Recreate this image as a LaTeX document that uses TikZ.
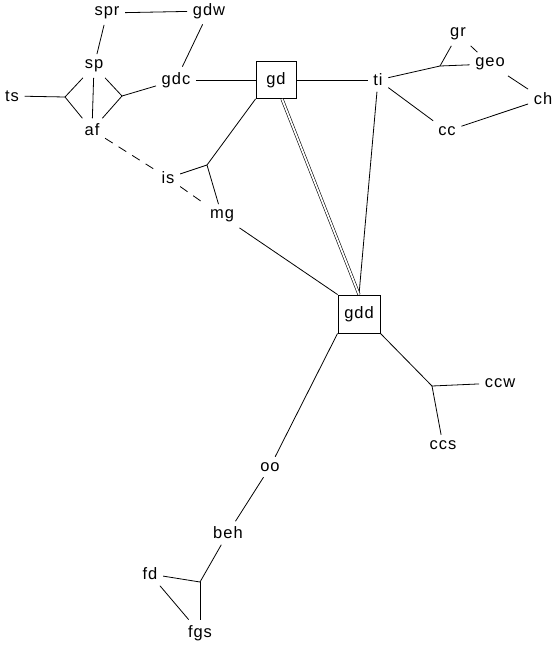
\documentclass[tikz,border=0pt]{standalone}
\usepackage{fontspec}
\setmainfont{Liberation Sans}[LetterSpace=6]
\begin{document}
\begin{tikzpicture}[x=1pt,y=-1pt,
  lbl/.style={inner sep=5.5pt,font=\fontsize{16.5}{18}\selectfont},
  boxnode/.style={draw,line width=0.9pt,minimum width=40pt,minimum height=37pt,inner sep=2pt,font=\fontsize{16.5}{18}\selectfont},
  edge/.style={line width=0.8pt},
  dashedge/.style={line width=0.8pt,dash pattern=on 9pt off 7pt},
  dbl/.style={double,double distance=1.8pt,line width=0.6pt}]
\path[use as bounding box] (0,0) rectangle (556,645);
% nodes
\node[lbl] (spr) at (107,13) {spr};
\node[lbl] (gdw) at (209,11) {gdw};
\node[lbl] (sp) at (94,66) {sp};
\node[lbl] (gdc) at (176,80) {gdc};
\node[lbl] (ts) at (12,96) {ts};
\node[lbl] (af) at (92,130) {af};
\node[boxnode] (gd) at (276,80) {gd};
\node[lbl] (ti) at (378,80) {ti};
\node[lbl] (gr) at (458,34) {gr};
\node[lbl] (geo) at (490,64) {geo};
\node[lbl] (ch) at (543,99) {ch};
\node[lbl] (cc) at (447,131) {cc};
\node[lbl] (is) at (168,178) {is};
\node[lbl] (mg) at (222,216) {mg};
\node[boxnode,minimum width=42pt,minimum height=38pt] (gdd) at (359,314) {gdd};
\node[lbl] (ccw) at (500,383) {ccw};
\node[lbl] (ccs) at (443,445) {ccs};
\node[lbl] (oo) at (270,467) {oo};
\node[lbl] (beh) at (228,533) {beh};
\node[lbl] (fd) at (150,574) {fd};
\node[lbl] (fgs) at (200,633) {fgs};
% junctions
\coordinate (j1) at (65,97);
\coordinate (j2) at (122,96);
\coordinate (j3) at (440,66);
\coordinate (j4) at (207,165);
\coordinate (j5) at (432,386);
\coordinate (j6) at (200,582);
% edges
\draw[edge] (spr) -- (gdw);
\draw[edge] (spr) -- (sp);
\draw[edge] (gdw) -- (gdc);
\draw[edge] (ts) -- (j1);
\draw[edge] (j1) -- (sp);
\draw[edge] (j1) -- (af);
\draw[edge] (sp) -- (af);
\draw[edge] (sp) -- (j2);
\draw[edge] (j2) -- (af);
\draw[edge] (j2) -- (gdc);
\draw[edge] (gdc) -- (gd);
\draw[edge] (gd) -- (ti);
\draw[edge] (ti) -- (j3);
\draw[edge] (j3) -- (gr);
\draw[edge] (j3) -- (geo);
\draw[edge] (gr) -- (geo);
\draw[edge] (geo) -- (ch);
\draw[edge] (ch) -- (cc);
\draw[edge] (ti) -- (cc);
\draw[edge] (ti) -- (gdd.north);
\draw[dbl] ([xshift=6pt]gd.south) -- (gdd.north);
\draw[edge] (gd.south west) -- (j4);
\draw[edge] (j4) -- (is);
\draw[edge] (j4) -- (mg);
\draw[dashedge] (af) -- (is);
\draw[dashedge] (is) -- (mg);
\draw[edge] (mg) -- (gdd.north west);
\draw[edge] (gdd.south east) -- (j5);
\draw[edge] (j5) -- (ccw);
\draw[edge] (j5) -- (ccs);
\draw[edge] (gdd.south west) -- (oo);
\draw[edge] (oo) -- (beh);
\draw[edge] (beh) -- (j6);
\draw[edge] (j6) -- (fd);
\draw[edge] (j6) -- (fgs);
\draw[edge] (fd) -- (fgs);
\end{tikzpicture}
\end{document}
